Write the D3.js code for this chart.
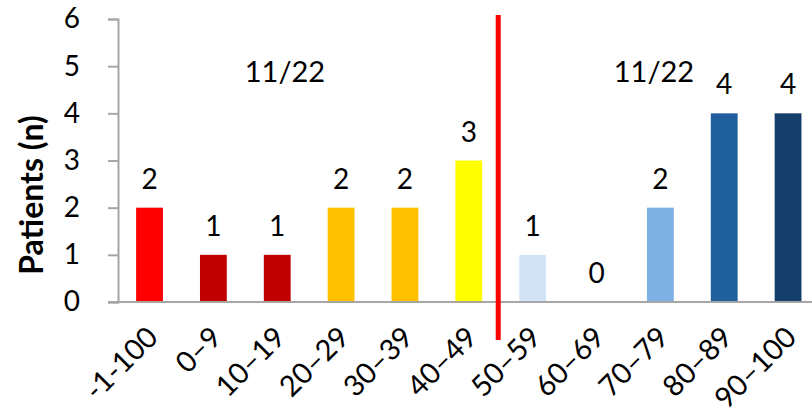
<!DOCTYPE html>
<html>
<head>
<meta charset="utf-8">
<script src="https://cdn.jsdelivr.net/npm/d3@7"></script>
<style>
  html, body { margin: 0; padding: 0; background: #fff; }
  svg { display: block; }
  text { font-family: Lato, "Noto Sans", sans-serif; fill: #000; }
</style>
</head>
<body>
<svg id="chart" width="812" height="411"></svg>
<script>
// Score bands and patient counts
const categories = ["-1-100", "0–9", "10–19", "20–29", "30–39", "40–49", "50–59", "60–69", "70–79", "80–89", "90–100"];
const patients   = [2, 1, 1, 2, 2, 3, 1, 0, 2, 4, 4];
const barColors  = ["#FF0000", "#C00000", "#C00000", "#FFC000", "#FFC000", "#FFFF00",
                    "#D2E3F5", "#BDD7EE", "#7EB1E4", "#1F5F9E", "#163E6A"];
const yTicks     = [0, 1, 2, 3, 4, 5, 6];
const groupNotes = [{ label: "11/22", from: 0, to: 5 }, { label: "11/22", from: 6, to: 10 }];
const splitAfter = "40–49";

const svg = d3.select("#chart");
const axisColor = "#A6A6A6";

const x = d3.scaleBand().domain(categories).range([117.6, 820]).paddingInner(0.58).paddingOuter(0.29);
const y = d3.scaleLinear().domain([0, 6]).range([302, 19]);

// y axis
const yAxis = svg.append("g").attr("transform", "translate(118,0)")
  .call(d3.axisLeft(y).tickValues(yTicks).tickSize(10).tickPadding(28).tickFormat(d3.format("d")));
yAxis.select(".domain").attr("stroke", axisColor).attr("stroke-width", 2);
yAxis.selectAll(".tick line").attr("stroke", axisColor).attr("stroke-width", 2);
yAxis.selectAll(".tick text").attr("font-size", 28).attr("font-family", "Lato").attr("fill", "#000");

// bars
svg.append("g").selectAll("rect").data(categories).join("rect")
  .attr("x", d => x(d))
  .attr("width", x.bandwidth())
  .attr("y", (d, i) => y(patients[i]))
  .attr("height", (d, i) => y(0) - y(patients[i]))
  .attr("fill", (d, i) => barColors[i]);

// x axis line
svg.append("line").attr("x1", 108).attr("x2", 812).attr("y1", y(0)).attr("y2", y(0))
  .attr("stroke", axisColor).attr("stroke-width", 2);

// value labels
svg.append("g").selectAll("text").data(categories).join("text")
  .attr("x", d => x(d) + x.bandwidth() / 2)
  .attr("y", (d, i) => y(patients[i]) - 19)
  .attr("text-anchor", "middle")
  .attr("font-size", 28)
  .text((d, i) => patients[i]);

// category labels, rotated
svg.append("g").selectAll("text").data(categories).join("text")
  .attr("text-anchor", "end")
  .attr("font-size", 29)
  .attr("transform", d => `translate(${x(d) + x.bandwidth() / 2 + 10},${y(0) + 37}) rotate(-45)`)
  .text(d => d);

// divider between the two groups
const splitX = x(splitAfter) + x.bandwidth() + (x.step() - x.bandwidth()) / 2 - 2.5;
svg.append("line").attr("x1", splitX).attr("x2", splitX).attr("y1", 15).attr("y2", 340)
  .attr("stroke", "#FF0000").attr("stroke-width", 5);

// group annotations
svg.append("g").selectAll("text").data(groupNotes).join("text")
  .attr("x", (d, i) => i === 0 ? 285 : 654)
  .attr("y", 82)
  .attr("text-anchor", "middle")
  .attr("font-size", 29)
  .text(d => d.label);

// y axis title
svg.append("text")
  .attr("transform", "translate(43,195) rotate(-90)")
  .attr("text-anchor", "middle")
  .attr("font-size", 32)
  .attr("font-weight", "bold")
  .text("Patients (n)");
</script>
</body>
</html>
